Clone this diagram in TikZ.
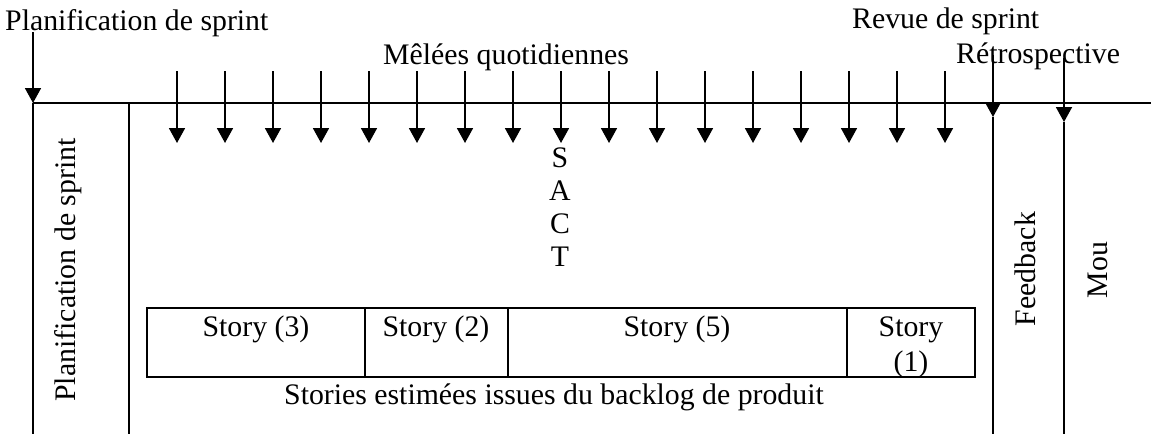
\documentclass[tikz,border=0pt]{standalone}
\usepackage{fontspec}
\setmainfont{Liberation Serif}
\usetikzlibrary{arrows.meta}
\begin{document}
\begin{tikzpicture}[x=1pt,y=-1pt,
  lbl/.style={font=\fontsize{29.8}{33}\selectfont, inner sep=0pt},
  rule/.style={line width=1.8pt},
  tick/.style={rule,-{Triangle[length=15pt,width=16pt]}},
]
\useasboundingbox (0,0) rectangle (1151,434);

% time line and the column rules
\coordinate (hl) at (33,103);
\coordinate (hr) at (1151,103);
\coordinate (plantop) at (33,32);
\coordinate (planbot) at (33,434);
\coordinate (septop) at (129,103);
\coordinate (sepbot) at (129,434);
\coordinate (revtop) at (993,55);
\coordinate (revtip) at (993,117);
\coordinate (revbot) at (993,434);
\coordinate (rettop) at (1064,58);
\coordinate (rettip) at (1064,122);
\coordinate (retbot) at (1064,434);

\draw[rule] (hl) -- (hr);
\draw[tick] (plantop) -- (hl);
\draw[rule] (hl) -- (planbot);
\draw[rule] (septop) -- (sepbot);
\draw[tick] (revtop) -- (revtip);
\draw[rule] (revtip) -- (revbot);
\draw[tick] (rettop) -- (rettip);
\draw[rule] (rettip) -- (retbot);

% daily scrums
\foreach \i in {0,...,16} {
  \coordinate (dtop\i) at ({177+48*\i},71);
  \coordinate (dtip\i) at ({177+48*\i},143);
  \draw[tick] (dtop\i) -- (dtip\i);
}

% headings
\node[lbl, anchor=base west] (planTxt) at (5,30) {Planification de sprint};
\node[lbl, anchor=base west] (revTxt) at (852,28) {Revue de sprint};
\node[lbl, anchor=base west] (meleeTxt) at (383,64) {Mêlées quotidiennes};
\node[lbl, anchor=base west] (retroTxt) at (956,63) {Rétrospective};

% SACT, one letter per line
\node[lbl, anchor=base] (sactS) at (560,167) {S};
\node[lbl, anchor=base] (sactA) at (560,200) {A};
\node[lbl, anchor=base] (sactC) at (560,233) {C};
\node[lbl, anchor=base] (sactT) at (560,266) {T};

% vertical column labels
\node[lbl, rotate=90, anchor=base] (planCol) at (75,270) {Planification de sprint};
\node[lbl, rotate=90, anchor=base] (feedCol) at (1035,269) {Feedback};
\node[lbl, rotate=90, anchor=base] (mouCol) at (1107,270) {Mou};

% estimated stories
\draw[rule] (147,308) rectangle (975,377);
\draw[rule] (365,308) -- (365,377);
\draw[rule] (508,308) -- (508,377);
\draw[rule] (847,308) -- (847,377);
\node[lbl, anchor=base] (st3) at (256,336) {Story (3)};
\node[lbl, anchor=base] (st2) at (436,336) {Story (2)};
\node[lbl, anchor=base] (st5) at (677,336) {Story (5)};
\node[lbl, anchor=base] (st1a) at (911,336) {Story};
\node[lbl, anchor=base] (st1b) at (911,371) {(1)};
\node[lbl, anchor=base] (backlog) at (554,404) {Stories estimées issues du backlog de produit};
\end{tikzpicture}
\end{document}
